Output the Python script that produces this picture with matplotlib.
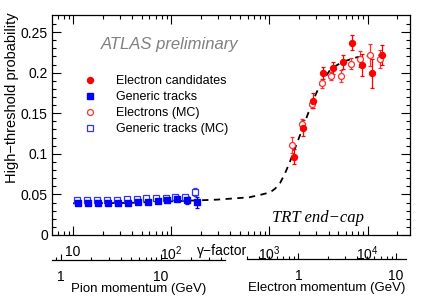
import numpy as np
import matplotlib
matplotlib.use("Agg")
import matplotlib.pyplot as plt
from matplotlib.lines import Line2D
from matplotlib.ticker import LogLocator, FixedLocator, FixedFormatter, NullFormatter

plt.rcParams["font.family"] = ["Liberation Sans", "DejaVu Sans"]
plt.rcParams["mathtext.fontset"] = "custom"
plt.rcParams["mathtext.rm"] = "Liberation Sans"
plt.rcParams["mathtext.it"] = "Liberation Sans:italic"

# pion region (gamma factor, probability, error)
pi_gamma = [11.3, 14.3, 18.1, 22.9, 29.0, 36.6, 46.2, 57.7, 72.8, 91.2, 113.8, 143.9, 182]
pi_prob = [0.0390, 0.0390, 0.0390, 0.0394, 0.0394, 0.0398, 0.0402, 0.0411, 0.0419, 0.0427, 0.0445, 0.0431, 0.0402]
pi_err = [0.001] * 10 + [0.003, 0.0055, 0.0066]

pimc_gamma = [10.9, 13.8, 17.4, 22.0, 27.9, 35.2, 44.4, 55.5, 70.0, 87.7, 109.5, 138.4, 175]
pimc_prob = [0.0431, 0.0431, 0.0431, 0.0435, 0.0435, 0.0439, 0.0443, 0.0452, 0.0456, 0.0452, 0.0472, 0.0464, 0.0525]
pimc_err = [0.001] * 10 + [0.002, 0.003, 0.005]

# electron region
el_gamma = [1776, 2208, 2793, 3533, 4470, 5600, 6970, 8810, 11060, 13990]
el_prob = [0.0965, 0.1322, 0.1654, 0.1991, 0.2053, 0.2135, 0.2369, 0.2098, 0.1991, 0.2217]
el_err = [0.0092, 0.0099, 0.0094, 0.0074, 0.0074, 0.0086, 0.0094, 0.0136, 0.018, 0.0123]

elmc_gamma = [1707, 2160, 2730, 3397, 4260, 5380, 6760, 8410, 10650, 13430]
elmc_prob = [0.1108, 0.1363, 0.1613, 0.1868, 0.1958, 0.1962, 0.2110, 0.2172, 0.2217, 0.2167]
elmc_err = [0.0103, 0.0066, 0.005, 0.0053, 0.0053, 0.0074, 0.0066, 0.0099, 0.0135, 0.0107]

# turn-on fit curve
fit_gamma = [10, 36.3, 102, 286, 620, 841, 1014, 1140, 1282, 1442, 1622, 1824,
             2200, 2716, 3277, 4240, 5614, 7795, 11090, 16130]
fit_prob = [0.039, 0.0395, 0.0415, 0.0435, 0.0464, 0.050, 0.0525, 0.057, 0.064, 0.076,
            0.0907, 0.107, 0.133, 0.163, 0.185, 0.205, 0.2135, 0.219, 0.221, 0.222]

gamma_ticks = [10, 100, 1000, 10000]
gamma_labels = ["10", "$10^2$", "$10^3$", "$10^4$"]

W, H = 432, 306
fig = plt.figure(figsize=(W / 100, H / 100), dpi=100)
ax = fig.add_axes([52 / W, 1 - 235 / H, 358 / W, 220 / H])

ax.plot(fit_gamma, fit_prob, ls=(0, (3.5, 3)), color="black", lw=1.3, zorder=1)

eb = dict(capsize=1.6, elinewidth=0.9, capthick=0.9, ms=4.3, ls="none", zorder=3)
ax.errorbar(pimc_gamma, pimc_prob, yerr=pimc_err, fmt="s", color="#3030ff",
            mfc="white", mew=0.9, **eb)
ax.errorbar(pi_gamma, pi_prob, yerr=pi_err, fmt="s", color="#0000ff", **eb)
ax.errorbar(elmc_gamma, elmc_prob, yerr=elmc_err, fmt="o", color="#ff3030",
            mfc="white", mew=0.9, **eb)
ax.errorbar(el_gamma, el_prob, yerr=el_err, fmt="o", color="#ff0000", **eb)

ax.set_xscale("log")
ax.set_xlim(6.1, 27000)
ax.set_ylim(0, 0.271)
ax.set_yticks([0, 0.05, 0.1, 0.15, 0.2, 0.25])
ax.set_yticklabels(["0", "0.05", "0.1", "0.15", "0.2", "0.25"])
ax.set_yticks(np.arange(0, 0.27, 0.01), minor=True)
ax.xaxis.set_major_locator(FixedLocator(gamma_ticks))
ax.xaxis.set_major_formatter(FixedFormatter(gamma_labels))
ax.xaxis.set_minor_locator(LogLocator(base=10, subs=np.arange(2, 10)))
ax.xaxis.set_minor_formatter(NullFormatter())
ax.tick_params(which="both", direction="in", top=True, right=True, labelsize=10)
ax.tick_params(which="major", length=6.5, width=0.8)
ax.tick_params(which="minor", length=3.2, width=0.8)
ax.tick_params(axis="x", pad=7)
ax.tick_params(axis="y", pad=3)
for s in ax.spines.values():
    s.set_linewidth(0.9)

ax.set_ylabel("High\u2212threshold probability", fontsize=10.5, ha="right", va="center",
              rotation_mode="anchor")
ax.yaxis.set_label_coords(-0.112, 1.01)
ax.text(0.405, -0.075, "\u03b3\u2212factor", transform=ax.transAxes, fontsize=10,
        va="center", ha="left")

ax.text(0.135, 0.868, "ATLAS preliminary", transform=ax.transAxes, fontsize=12,
        style="italic", color="#808080", va="center")
ax.text(0.615, 0.078, "TRT end\u2212cap", transform=ax.transAxes, fontsize=12,
        style="italic", family="Liberation Serif", va="center")

handles = [
    Line2D([], [], marker="o", ls="none", color="#ff0000", ms=4.3),
    Line2D([], [], marker="s", ls="none", color="#0000ff", ms=4.3),
    Line2D([], [], marker="o", ls="none", color="#ff3030", mfc="white", mew=0.9, ms=4.3),
    Line2D([], [], marker="s", ls="none", color="#3030ff", mfc="white", mew=0.9, ms=4.3),
]
labels = ["Electron candidates", "Generic tracks", "Electrons (MC)", "Generic tracks (MC)"]
ax.legend(handles, labels, loc="upper left", bbox_to_anchor=(0.078, 0.727),
          frameon=False, fontsize=9, borderpad=0, borderaxespad=0,
          handlelength=1.6, handletextpad=1.3, labelspacing=0.32)


def mom_axis(x0, x1, ypix, lims, ticks, ticklabels, title):
    a = fig.add_axes([x0 / W, 1 - ypix / H, (x1 - x0) / W, 0.001])
    a.patch.set_visible(False)
    for side in ["left", "right", "top"]:
        a.spines[side].set_visible(False)
    a.spines["bottom"].set_linewidth(0.9)
    a.set_yticks([])
    a.set_xscale("log")
    a.set_xlim(*lims)
    a.xaxis.set_major_locator(FixedLocator(ticks))
    a.xaxis.set_major_formatter(FixedFormatter(ticklabels))
    a.xaxis.set_minor_locator(LogLocator(base=10, subs=np.arange(2, 10)))
    a.xaxis.set_minor_formatter(NullFormatter())
    a.tick_params(which="both", direction="in", labelsize=10, width=0.8)
    a.tick_params(which="major", length=4.5, pad=7.5)
    a.tick_params(which="minor", length=2.3)
    a.set_xlabel(title, fontsize=9.5, labelpad=-1)
    return a


mom_axis(52, 225, 260, (0.813, 43.6), [1, 10], ["1", "10"], "Pion momentum (GeV)")
mom_axis(247, 406, 259, (0.298, 12.66), [1, 10], ["1", "10"], "Electron momentum (GeV)")

fig.savefig("out.png", dpi=100)
